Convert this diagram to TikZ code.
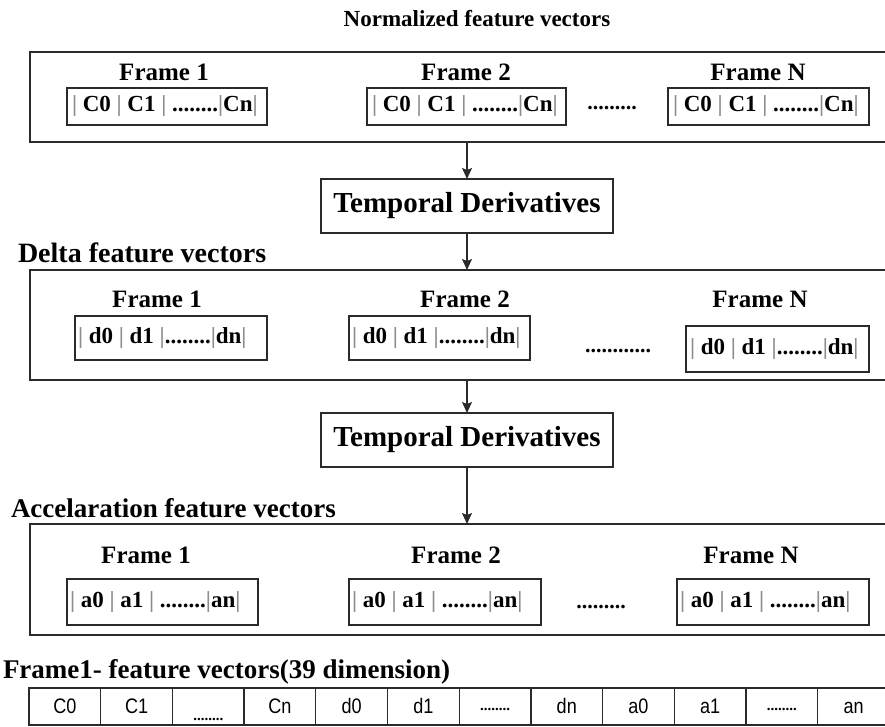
\documentclass[tikz,border=0pt]{standalone}
\usepackage{fontspec}
\setmainfont{Liberation Serif}
\setsansfont{Liberation Sans}
\newfontfamily\narrowsans[FakeStretch=0.86]{Liberation Sans}
\usetikzlibrary{arrows.meta}
\definecolor{ink}{HTML}{2A2A2A}
% grey separator bar used inside the vector boxes
\newcommand\vb{{\color{black!45}|}}
% dot runs inside the table cells
\newcommand\lowdots{\raisebox{-7pt}[0pt][0pt]{\rmfamily\bfseries\fontsize{15}{15}\selectfont ........}}
\newcommand\middots{\raisebox{3pt}[0pt][0pt]{\rmfamily\bfseries\fontsize{15}{15}\selectfont ........}}
\begin{document}
\begin{tikzpicture}[x=1pt,y=-1pt,
  every node/.style={inner sep=0pt, outer sep=0pt},
  line/.style={draw=ink, line width=1.3pt},
  panel/.style={line, anchor=north west, minimum width=880pt},
  hdr/.style={font=\bfseries\fontsize{25}{27}\selectfont},
  vecbox/.style={line},
  vectxt/.style={anchor=west, font=\bfseries\fontsize{23}{25}\selectfont},
  gapdots/.style={anchor=base, font=\bfseries\fontsize{22}{24}\selectfont},
  derivbox/.style={line, minimum width=292pt, minimum height=54pt,
    font=\bfseries\fontsize{29}{31}\selectfont},
  arr/.style={line, -{Stealth[length=11pt, width=10pt, inset=2pt]}},
  cell/.style={line, minimum width=71.7pt, minimum height=37pt,
    text height=14pt, text depth=0pt,
    font=\narrowsans\fontsize{21}{22}\selectfont}]
\useasboundingbox (0,0) rectangle (885,727);
\clip (0,0) rectangle (885,727);

% ---- normalized vectors ----
\node[font=\bfseries\fontsize{23}{25}\selectfont] (t1) at (477,19) {Normalized feature vectors};
\node[panel, minimum height=90pt] (p1) at (30,52) {};
\node[hdr] (f11) at (164,72) {Frame 1};
\node[hdr] (f12) at (466,72) {Frame 2};
\node[hdr] (f1n) at (758,72) {Frame N};
\node[vecbox, minimum width=200pt, minimum height=37pt] (v11) at (167,106.5) {};
\node[vecbox, minimum width=199pt, minimum height=37pt] (v12) at (466.5,106.5) {};
\node[vecbox, minimum width=201pt, minimum height=37pt] (v1n) at (768.5,106.5) {};
\node[vectxt] (v11t) at ([xshift=5pt]v11.west) {\vb{} C0 \vb{} C1 \vb{} ........\vb{}Cn\vb};
\node[vectxt] (v12t) at ([xshift=5pt]v12.west) {\vb{} C0 \vb{} C1 \vb{} ........\vb{}Cn\vb};
\node[vectxt] (v1nt) at ([xshift=5pt]v1n.west) {\vb{} C0 \vb{} C1 \vb{} ........\vb{}Cn\vb};
\node[gapdots] (dots1) at (612,110) {.........};

\node[derivbox] (td1) at (467,206) {Temporal Derivatives};

% ---- delta vectors ----
\node[hdr, anchor=west, font=\bfseries\fontsize{28}{30}\selectfont] (t2) at (18,253) {Delta feature vectors};
\node[panel, minimum height=110pt] (p2) at (30,270) {};
\node[hdr] (f21) at (157,299) {Frame 1};
\node[hdr] (f22) at (465,299) {Frame 2};
\node[hdr] (f2n) at (760,299) {Frame N};
\node[vecbox, minimum width=192pt, minimum height=44pt] (v21) at (171,338) {};
\node[vecbox, minimum width=181pt, minimum height=44pt] (v22) at (439.5,338) {};
\node[vecbox, minimum width=183pt, minimum height=46pt] (v2n) at (777.5,349) {};
\node[vectxt] (v21t) at ([xshift=3pt]v21.west) {\vb{} d0 \vb{} d1 \vb{}........\vb{}dn\vb};
\node[vectxt] (v22t) at ([xshift=3pt]v22.west) {\vb{} d0 \vb{} d1 \vb{}........\vb{}dn\vb};
\node[vectxt] (v2nt) at ([xshift=4pt]v2n.west) {\vb{} d0 \vb{} d1 \vb{}........\vb{}dn\vb};
\node[gapdots] (dots2) at (618,352) {............};

\node[derivbox] (td2) at (467,440) {Temporal Derivatives};

% ---- acceleration vectors ----
\node[hdr, anchor=west, font=\bfseries\fontsize{27}{29}\selectfont] (t3) at (11,508) {Accelaration feature vectors};
\node[panel, minimum height=111pt] (p3) at (30,524) {};
\node[hdr] (f31) at (146,555) {Frame 1};
\node[hdr] (f32) at (456,555) {Frame 2};
\node[hdr] (f3n) at (751,555) {Frame N};
\node[vecbox, minimum width=191pt, minimum height=46pt] (v31) at (162.5,602) {};
\node[vecbox, minimum width=192pt, minimum height=46pt] (v32) at (445,602) {};
\node[vecbox, minimum width=192pt, minimum height=46pt] (v3n) at (773,602) {};
\node[vectxt] (v31t) at ([xshift=3pt]v31.west) {\vb{} a0 \vb{} a1 \vb{} ........\vb{}an\vb};
\node[vectxt] (v32t) at ([xshift=3pt]v32.west) {\vb{} a0 \vb{} a1 \vb{} ........\vb{}an\vb};
\node[vectxt] (v3nt) at ([xshift=3pt]v3n.west) {\vb{} a0 \vb{} a1 \vb{} ........\vb{}an\vb};
\node[gapdots] (dots3) at (601,608) {.........};

% ---- connectors ----
\draw[arr] (td1.north |- p1.south) -- (td1.north);
\draw[arr] (td1.south) -- (td1.south |- p2.north);
\draw[arr] (td2.north |- p2.south) -- (td2.north);
\draw[arr] (td2.south) -- (td2.south |- p3.north);

% ---- concatenated 39-dimensional vector ----
\node[anchor=west, font=\bfseries\fontsize{27}{29}\selectfont] (t4) at (3,672) {Frame1- feature vectors(39 dimension)};
\foreach \t [count=\i from 0] in {C0,C1,\lowdots,Cn,d0,d1,\middots,dn,a0,a1,\middots,an}
  \node[cell] (c\i) at ({64.85+71.7*\i},706.5) {\t};
\end{tikzpicture}
\end{document}
